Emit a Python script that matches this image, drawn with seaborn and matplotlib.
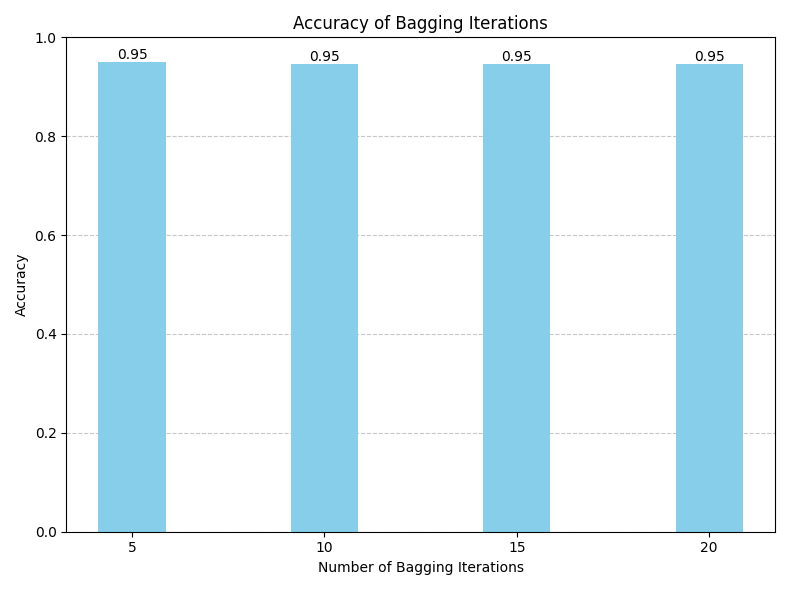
import matplotlib
matplotlib.use("Agg")
import matplotlib.pyplot as plt
import seaborn as sns
import pandas as pd

iterations = [5, 10, 15, 20]
accuracy = [0.950, 0.947, 0.947, 0.947]

df = pd.DataFrame({"iter": iterations, "acc": accuracy})

fig, ax = plt.subplots(figsize=(7.9, 5.9), dpi=100)
sns.barplot(data=df, x="iter", y="acc", native_scale=True, width=0.35,
            color="skyblue", saturation=1, ax=ax, zorder=2)
for x, y in zip(iterations, accuracy):
    ax.text(x, y, f"{y:.2f}", ha="center", va="bottom", fontsize=10)
ax.set_xticks(iterations)
ax.set_xticklabels([str(i) for i in iterations])
ax.set_xlim(3.29, 21.71)
ax.set_ylim(0, 1.0)
ax.yaxis.grid(True, linestyle="--", alpha=0.7, zorder=0)
ax.set_axisbelow(True)
ax.set_xlabel("Number of Bagging Iterations")
ax.set_ylabel("Accuracy")
ax.set_title("Accuracy of Bagging Iterations")
fig.tight_layout()
fig.savefig("out.png")
